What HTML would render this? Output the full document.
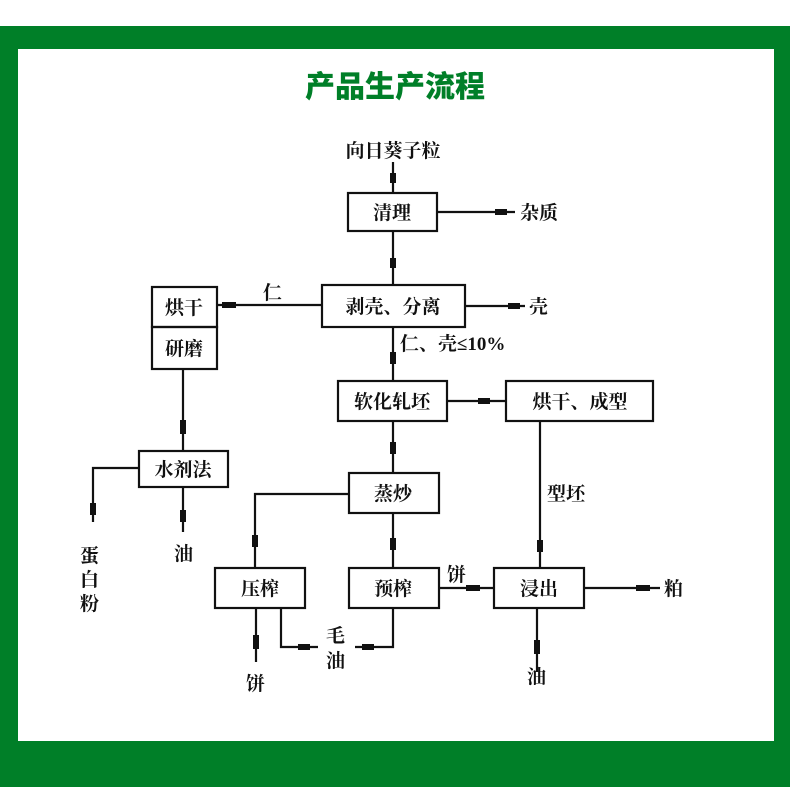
<!DOCTYPE html>
<html><head><meta charset="utf-8"><style>
html,body{margin:0;padding:0;background:#fff;}
svg{display:block}
text{font-family:"Liberation Serif","Noto Serif CJK SC","Noto Sans CJK SC",serif;font-size:19px;fill:#111;font-weight:bold}
</style></head><body>
<svg width="790" height="801" viewBox="0 0 790 801" xmlns="http://www.w3.org/2000/svg">
<rect x="0" y="0" width="790" height="801" fill="#fff"/>
<rect x="0" y="26" width="790" height="761" fill="#007f28"/>
<rect x="18" y="49" width="756" height="692" fill="#fff"/>
<text x="395" y="97" text-anchor="middle" style="font-family:'Noto Sans CJK SC',sans-serif;font-size:30px;font-weight:900;fill:#007f28">产品生产流程</text>
<g stroke="#111" stroke-width="2.2" fill="none">
<rect x="348" y="193" width="89" height="38"/>
<rect x="322" y="285" width="143" height="42"/>
<rect x="152" y="287" width="65" height="40"/>
<rect x="152" y="327" width="65" height="42"/>
<rect x="338" y="381" width="109" height="40"/>
<rect x="506" y="381" width="147" height="40"/>
<rect x="139" y="451" width="89" height="36"/>
<rect x="349" y="473" width="90" height="40"/>
<rect x="215" y="568" width="90" height="40"/>
<rect x="349" y="568" width="90" height="40"/>
<rect x="494" y="568" width="90" height="40"/>
<path d="M393 162V193M393 231V285M393 327V381M393 421V473M393 513V568"/>
<path d="M437 212H515M465 306H525M217 305H322M447 401H506"/>
<path d="M540 421V568M349 494H255V568M439 588H494M584 588H660"/>
<path d="M537 608V672M256 608V662M281 608V647H318M393 608V647H355"/>
<path d="M183 369V451M139 468H93V522M183 487V532"/>
</g>
<g fill="#111">
<rect x="390" y="173" width="6" height="10"/><rect x="390" y="258" width="6" height="10"/><rect x="390" y="352" width="6" height="12"/>
<rect x="390" y="442" width="6" height="12"/><rect x="390" y="538" width="6" height="12"/>
<rect x="495" y="209" width="12" height="6"/><rect x="508" y="303" width="12" height="6"/><rect x="222" y="302" width="14" height="6"/>
<rect x="478" y="398" width="12" height="6"/><rect x="537" y="540" width="6" height="12"/><rect x="252" y="535" width="6" height="12"/>
<rect x="466" y="585" width="14" height="6"/><rect x="636" y="585" width="14" height="6"/><rect x="534" y="640" width="6" height="14"/>
<rect x="253" y="635" width="6" height="14"/><rect x="298" y="644" width="12" height="6"/><rect x="362" y="644" width="12" height="6"/>
<rect x="180" y="420" width="6" height="14"/><rect x="90" y="503" width="6" height="12"/><rect x="180" y="510" width="6" height="12"/>
</g>
<text x="393" y="157" text-anchor="middle">向日葵子粒</text>
<text x="392" y="219" text-anchor="middle">清理</text>
<text x="520" y="219">杂质</text>
<text x="393" y="313" text-anchor="middle">剥壳、分离</text>
<text x="529" y="313">壳</text>
<text x="184" y="314" text-anchor="middle">烘干</text>
<text x="184" y="355" text-anchor="middle">研磨</text>
<text x="263" y="299">仁</text>
<text x="400" y="350">仁、壳≤10%</text>
<text x="392" y="408" text-anchor="middle">软化轧坯</text>
<text x="580" y="408" text-anchor="middle">烘干、成型</text>
<text x="183" y="476" text-anchor="middle">水剂法</text>
<text x="393" y="500" text-anchor="middle">蒸炒</text>
<text x="547" y="500">型坯</text>
<text x="260" y="595" text-anchor="middle">压榨</text>
<text x="393" y="595" text-anchor="middle">预榨</text>
<text x="539" y="595" text-anchor="middle">浸出</text>
<text x="447" y="581">饼</text>
<text x="664" y="595">粕</text>
<text x="326" y="642">毛</text>
<text x="326" y="667">油</text>
<text x="246" y="690">饼</text>
<text x="527" y="683">油</text>
<text x="174" y="560">油</text>
<text x="80" y="562">蛋</text>
<text x="80" y="586">白</text>
<text x="80" y="610">粉</text>
</svg>
</body></html>
